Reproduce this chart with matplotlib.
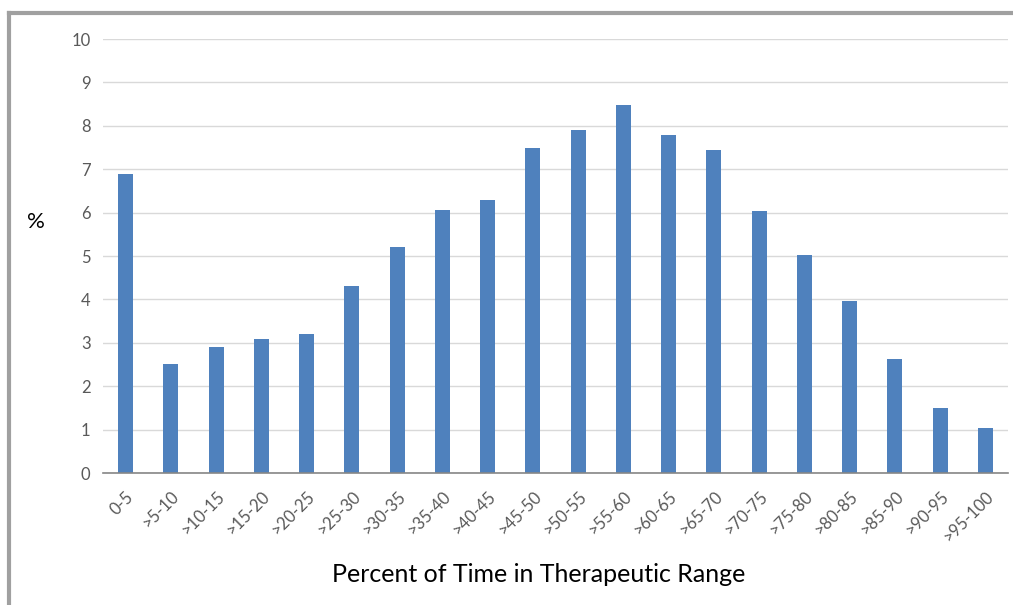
import matplotlib
matplotlib.use("Agg")
import matplotlib.pyplot as plt
from matplotlib.lines import Line2D

categories = ["0-5", ">5-10", ">10-15", ">15-20", ">20-25", ">25-30", ">30-35",
              ">35-40", ">40-45", ">45-50", ">50-55", ">55-60", ">60-65", ">65-70",
              ">70-75", ">75-80", ">80-85", ">85-90", ">90-95", ">95-100"]
percent = [6.9, 2.52, 2.9, 3.08, 3.2, 4.31, 5.22, 6.06, 6.29, 7.49, 7.91, 8.49,
           7.8, 7.44, 6.03, 5.02, 3.96, 2.63, 1.51, 1.03]
yticks = list(range(0, 11))

plt.rcParams["font.family"] = ["Lato", "DejaVu Sans"]

fig = plt.figure(figsize=(10.13, 6.05), dpi=100)
ax = fig.add_axes([0.1017, 0.218, 0.8933, 0.7175])

x = range(len(categories))
ax.bar(x, percent, width=0.33, color="#4F81BD", zorder=3)

ax.set_xlim(-0.5, len(categories) - 0.5)
ax.set_ylim(0, 10)
ax.set_yticks(yticks)
ax.set_yticklabels([str(t) for t in yticks], fontsize=12, color="#595959")
ax.set_xticks(list(x))
ax.set_xticklabels(categories, rotation=45, ha="right", rotation_mode="anchor",
                   fontsize=12, color="#595959")
ax.tick_params(axis="both", length=0, pad=9)
ax.tick_params(axis="x", pad=11)
ax.grid(axis="y", color="#D9D9D9", linewidth=1, zorder=0)
for s in ("top", "right", "left"):
    ax.spines[s].set_visible(False)
ax.spines["bottom"].set_color("#868686")
ax.spines["bottom"].set_linewidth(1.2)
ax.spines["bottom"].set_zorder(4)

fig.text(0.035, 0.633, "%", fontsize=16, ha="center", va="center", color="black")
fig.text(0.532, 0.05, "Percent of Time in Therapeutic Range", fontsize=18,
         ha="center", va="center", color="black")

# outer gray frame (top and left edges)
fig.add_artist(Line2D([0.009, 1.0], [0.978, 0.978], color="#A0A0A0", linewidth=3,
                      transform=fig.transFigure))
fig.add_artist(Line2D([0.009, 0.009], [0.0, 0.978], color="#A0A0A0", linewidth=3,
                      transform=fig.transFigure))

fig.savefig("out.png", dpi=100)
